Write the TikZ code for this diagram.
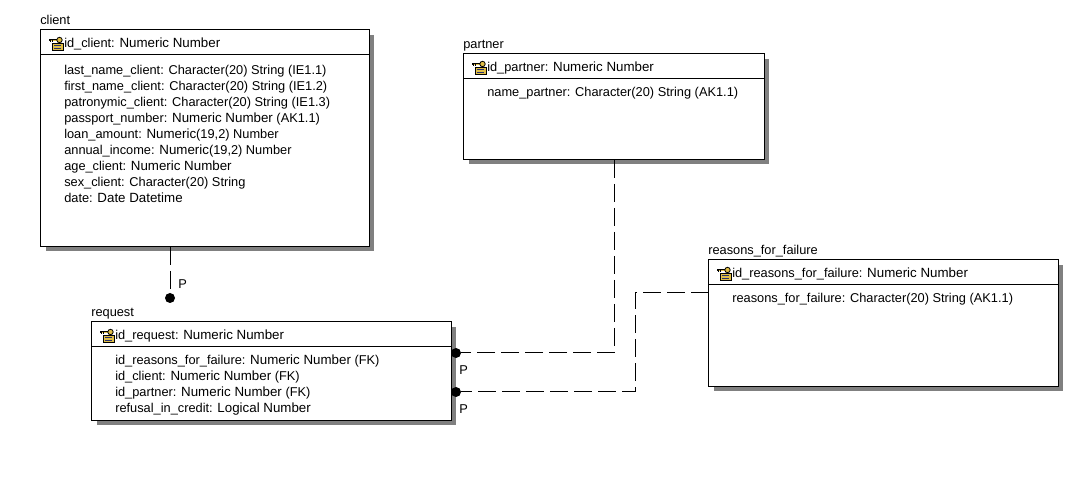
\documentclass[tikz,border=0pt]{standalone}
\usepackage{fontspec}
\setmainfont{Liberation Sans}
\usetikzlibrary{calc}
\definecolor{keygold}{RGB}{224,190,70}
\definecolor{keyblue}{RGB}{40,50,110}
\newcommand{\wider}[1]{{\fontsize{10pt}{12pt}\selectfont #1}}
\tikzset{
  x=0.75pt,y=-0.75pt,
  entity/.style={draw=black,line width=0.75pt,fill=white,anchor=north west,inner sep=0pt,outer sep=0pt},
  divider/.style={line width=0.75pt,draw=black},
  title/.style={anchor=base west,inner sep=0pt,font=\fontsize{9.6pt}{12pt}\selectfont},
  keytext/.style={anchor=base west,inner sep=0pt,font=\fontsize{9.6pt}{12pt}\selectfont},
  attrs/.style={anchor=north west,inner sep=0pt,align=left,font=\fontsize{9.6pt}{12pt}\selectfont},
  rel/.style={line width=0.75pt,draw=black,dash pattern=on 13.5pt off 4.5pt},
  dot/.style={circle,fill=black,draw=none,minimum size=7.5pt,inner sep=0pt,outer sep=0pt},
  plabel/.style={anchor=base west,inner sep=0pt,font=\fontsize{9.6pt}{12pt}\selectfont}
}
\newcommand{\keyicon}[2]{%
  \begin{scope}[shift={(#1,#2)}]
    \fill[keygold] (3,6) rectangle (14,13);
    \draw[black,line width=0.6pt] (3,6) rectangle (14,13);
    \draw[keyblue,line width=0.7pt] (5,8.5)--(12,8.5) (5,11)--(12,11);
    \draw[black,line width=1.7pt] (0,3)--(8,3);
    \draw[keygold,line width=0.6pt] (0.5,3)--(8,3);
    \draw[black,line width=0.7pt] (1,3)--(1,5.5) (3.5,3)--(3.5,5.5);
    \draw[black,fill=keygold,line width=0.6pt] (10.5,3) circle (2.7);
  \end{scope}}
\newcommand{\entitybox}[7]{% name, x1, y1, x2, y2, divider y, title
  \fill[black!50] (#2+5,#3+5) rectangle (#4+5,#5+5);
  \node[entity,minimum width=#4*0.75pt-#2*0.75pt+0.4pt,minimum height=#5*0.75pt-#3*0.75pt+0.75pt] (#1) at (#2-0.5,#3) {};
  \draw[divider] (#2,#6) -- (#4,#6);
  \node[title] (#1title) at (#2-1,#3-5) {#7};
}
\begin{document}
\begin{tikzpicture}
\useasboundingbox (0,0) rectangle (1072,488);
\fill[white] (0,0) rectangle (1072,488);

\entitybox{client}{41}{30}{369}{246}{55}{client}
\keyicon{49}{37}
\node[keytext] (clientkey) at (64,48) {id\_client: \wider{Numeric Number}};
\node[attrs] (clientattrs) at (64,65) {last\_name\_client: Character(20) String (IE1.1)\\
first\_name\_client: Character(20) String (IE1.2)\\
patronymic\_client: Character(20) String (IE1.3)\\
passport\_number: \wider{Numeric Number} (AK1.1)\\
loan\_amount: \wider{Numeric}(19,2) Number\\
annual\_income: \wider{Numeric}(19,2) Number\\
age\_client: \wider{Numeric Number}\\
sex\_client: Character(20) String\\
date: \wider{Date Datetime}};

\entitybox{partner}{464}{54}{764}{159}{79}{partner}
\keyicon{472}{61}
\node[keytext] (partnerkey) at (487,72) {id\_partner: \wider{Numeric Number}};
\node[attrs] (partnerattrs) at (487,87) {name\_partner: Character(20) String (AK1.1)};

\entitybox{reasons}{709}{260}{1058}{386}{285}{reasons\_for\_failure}
\keyicon{717}{267}
\node[keytext] (reasonskey) at (732,278) {id\_reasons\_for\_failure: \wider{Numeric Number}};
\node[attrs] (reasonsattrs) at (732,293) {reasons\_for\_failure: Character(20) String (AK1.1)};

\entitybox{request}{92}{322}{451}{420}{347}{request}
\keyicon{100}{329}
\node[keytext] (requestkey) at (115,340) {id\_request: \wider{Numeric Number}};
\node[attrs] (requestattrs) at (115,355) {id\_reasons\_for\_failure: \wider{Numeric Number} (FK)\\
id\_client: \wider{Numeric Number} (FK)\\
id\_partner: \wider{Numeric Number} (FK)\\
refusal\_in\_credit: \wider{Logical Number}};

\node[dot] (d1) at (170,298) {};
\node[dot] (d2) at (456,353) {};
\node[dot] (d3) at (456,392) {};
\coordinate (c2) at (614,353);
\coordinate (c3a) at (635,392);
\coordinate (c3b) at (635,293);
\draw[rel] (client.south -| d1) -- (d1);
\draw[rel] (partner.south -| c2) -- (c2) -- (d2);
\draw[rel] (reasons.west |- c3b) -- (c3b) -- (c3a) -- (d3);
\node[plabel] (p1) at (178,289) {P};
\node[plabel] (p2) at (459,375) {P};
\node[plabel] (p3) at (459,414) {P};
\end{tikzpicture}
\end{document}
